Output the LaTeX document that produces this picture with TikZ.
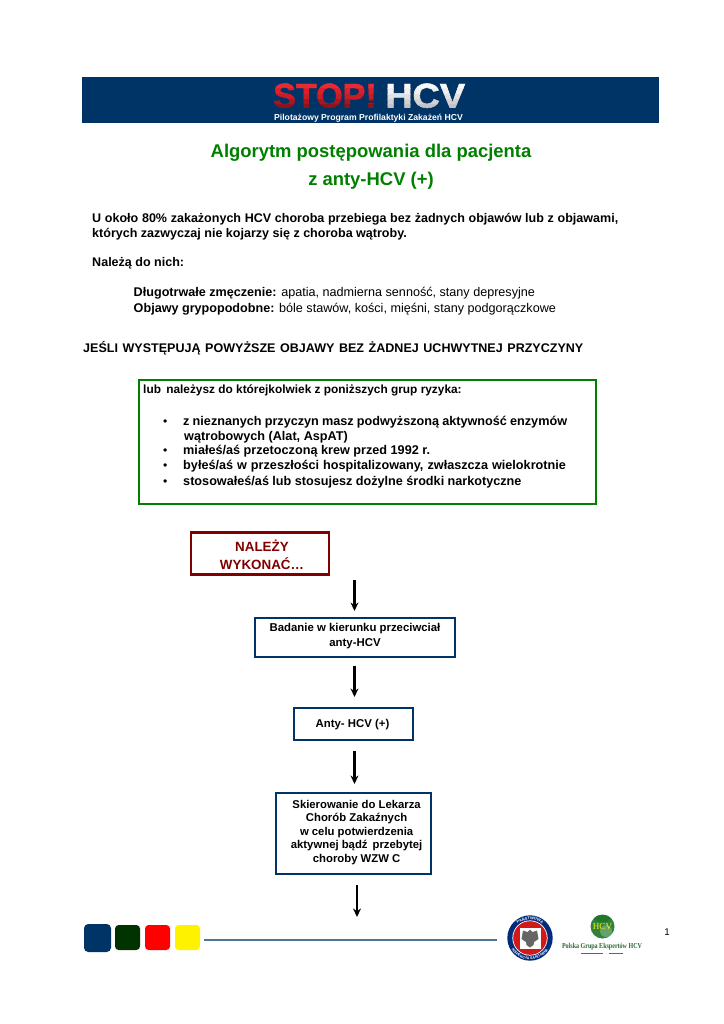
\documentclass[tikz,border=0pt]{standalone}
\usepackage{fontspec}
\setmainfont{Liberation Sans}
\newfontfamily\bannerfont[BoldFeatures={FakeBold=1.6}]{Liberation Sans}
\newfontfamily\logoserif{Liberation Serif}
\usetikzlibrary{arrows.meta,calc,shadings,decorations.text}
\definecolor{navy}{RGB}{0,51,102}
\definecolor{gtitle}{RGB}{0,128,0}
\definecolor{gbox}{RGB}{0,128,0}
\definecolor{maroon}{RGB}{128,0,0}
\definecolor{dkgreen}{RGB}{0,51,0}
\definecolor{rulec}{RGB}{80,115,150}
\definecolor{logogreen}{RGB}{50,130,60}
\definecolor{sealred}{RGB}{210,25,25}
\tikzset{
  x=0.8219pt,y=-0.8219pt,
  txt/.style={inner sep=0pt,anchor=base west,font=\fontsize{10.36}{12}\selectfont},
  bt/.style={txt,font=\fontsize{10.3}{12}\selectfont\bfseries},
  rb/.style={txt,font=\fontsize{10.4}{11}\selectfont\bfseries},
  dot/.style={txt,font=\fontsize{10}{11}\selectfont},
  flowbox/.style={draw=navy,line width=1.7pt,fill=white,inner sep=0pt},
  flowtext/.style={inner sep=0pt,align=center,font=\fontsize{9.35}{12.2}\selectfont\bfseries},
  flowarrow/.style={draw=black,line width=1.9pt,-{Stealth[length=7pt,width=6.5pt]}},
  bannerstop/.style={inner sep=0pt,anchor=base east,font=\fontsize{28}{28}\bannerfont\bfseries},
  bannerhcv/.style={inner sep=0pt,anchor=base west,font=\fontsize{28}{28}\bannerfont\bfseries,xscale=1.11},
}
\newcommand{\sline}[2]{\makebox[#1][s]{#2}}
\begin{document}
\begin{tikzpicture}
\useasboundingbox (0,0) rectangle (724,1024);
\fill[white] (0,0) rectangle (724,1024);
% banner
\fill[navy] (82,77) rectangle (659,122.5);
\foreach \i/\ya/\yb/\csv/\chv in {1/78/84/{240,55,65}/{255,255,255},2/84/89/{232,42,52}/{250,250,250},3/89/94/{220,32,42}/{240,240,240},4/94/99/{200,28,38}/{225,225,225},5/99/104/{170,22,32}/{210,210,210},6/104/112/{145,18,28}/{195,195,200}}{
  \definecolor{cs}{RGB}{\csv}\definecolor{ch}{RGB}{\chv}
  \begin{scope}
    \clip (250,\ya) rectangle (480,\yb);
    \node[bannerstop,text=cs] (stop\i) at (377,107.5) {STOP!};
    \node[bannerhcv,text=ch] (hcv\i) at (385,107.5) {HCV};
  \end{scope}
}
\node[inner sep=0pt,anchor=base,font=\fontsize{7.1}{8}\selectfont\bfseries,text=white] (sub) at (368.5,120) {Pilotażowy Program Profilaktyki Zakażeń HCV};
% title
\node[inner sep=0pt,anchor=base,font=\fontsize{15.15}{18}\selectfont\bfseries,text=gtitle] (t1) at (371,157) {Algorytm postępowania dla pacjenta};
\node[inner sep=0pt,anchor=base,font=\fontsize{15.15}{18}\selectfont\bfseries,text=gtitle] (t2) at (371,185) {z anty-HCV (+)};
% intro
\node[bt] (p1) at (92,222) {\sline{432.3pt}{U około 80\% zakażonych HCV choroba przebiega bez żadnych objawów lub z objawami,}};
\node[bt] (p2) at (92,237) {których zazwyczaj nie kojarzy się z choroba wątroby.};
\node[bt] (p3) at (92,266) {Należą do nich:};
\node[txt] (p4) at (133.5,296) {\textbf{Długotrwałe zmęczenie:} apatia, nadmierna senność, stany depresyjne};
\node[txt] (p5) at (133.5,312) {\textbf{Objawy grypopodobne:} bóle stawów, kości, mięśni, stany podgorączkowe};
\node[bt] (p6) at (83,352) {\sline{411pt}{JEŚLI WYSTĘPUJĄ POWYŻSZE OBJAWY BEZ ŻADNEJ UCHWYTNEJ PRZYCZYNY}};
% risk box
\draw[gbox,line width=1.9pt] (139,380) rectangle (596,504);
\node[txt,font=\fontsize{9.75}{11}\selectfont\bfseries] (r0) at (143,393) {lub\, należysz do którejkolwiek z poniższych grup ryzyka:};
\node[dot] (b1) at (163,425) {•};
\node[rb] (r1) at (183,425) {\sline{315.5pt}{z nieznanych przyczyn masz podwyższoną aktywność enzymów}};
\node[rb] (r1b) at (184,440) {wątrobowych (Alat, AspAT)};
\node[dot] (b2) at (163,454) {•};
\node[rb] (r2) at (183,454) {miałeś/aś przetoczoną krew przed 1992 r.};
\node[dot] (b3) at (163,469) {•};
\node[rb] (r3) at (183,469) {\sline{314.5pt}{byłeś/aś w przeszłości hospitalizowany, zwłaszcza wielokrotnie}};
\node[dot] (b4) at (163,485) {•};
\node[rb] (r4) at (183,485) {\sline{278pt}{stosowałeś/aś lub stosujesz dożylne środki narkotyczne}};
% flow
\node[draw=maroon,line width=1.8pt,minimum width=113pt,minimum height=34.5pt,inner sep=0pt] (n0) at (260,553.5) {};
\node[inner sep=0pt,align=center,text=maroon,font=\fontsize{11}{14.6}\selectfont\bfseries] (n0t) at (262,555) {NALEŻY\\WYKONAĆ…};
\node[flowbox,minimum width=164pt,minimum height=32.5pt] (n1) at (354.8,637.3) {};
\node[flowtext] (n1t) at (355,636) {Badanie w kierunku przeciwciał\\anty-HCV};
\node[flowbox,minimum width=98pt,minimum height=26pt] (n2) at (353.5,724.2) {};
\node[flowtext] (n2t) at (352.5,724.5) {Anty- HCV (+)};
\node[flowbox,minimum width=127pt,minimum height=66.5pt] (n3) at (353.4,833.5) {};
\node[flowtext,font=\fontsize{9.3}{11.1}\selectfont\bfseries] (n3t) at (356.6,832.5) {Skierowanie do Lekarza\\Chorób Zakaźnych\\w celu potwierdzenia\\aktywnej bądź\, przebytej\\choroby WZW C};
\coordinate (a0s) at (354.5,580);
\coordinate (a0e) at (354.5,611);
\coordinate (a1s) at (354.5,665.5);
\coordinate (a1e) at (354.5,697);
\coordinate (a2s) at (354.5,751);
\coordinate (a2e) at (354.5,784);
\coordinate (a3s) at (357,885);
\coordinate (a3e) at (357,917);
\draw[flowarrow] (a0s) -- (a0e);
\draw[flowarrow] (a1s) -- (a1e);
\draw[flowarrow] (a2s) -- (a2e);
\draw[flowarrow] (a3s) -- (a3e);
% footer
\fill[navy,rounded corners=3.5pt] (84,924) rectangle (111,952);
\fill[dkgreen,rounded corners=3pt] (115,925) rectangle (140,950);
\fill[red,rounded corners=3pt] (145,925) rectangle (170,950);
\fill[yellow,rounded corners=3pt] (175,925) rectangle (200,950);
\draw[rulec,line width=1.1pt] (204,940) -- (497,940);
% seal
\fill[navy!85!blue] (530,938) circle (22.7);
\fill[white] (530,938) circle (17.6);
\fill[sealred] (530,938) circle (16.8);
\fill[white] (519.5,927.5) rectangle (540.5,948.5);
\fill[black!60] (530,929.5) -- (532.5,932) -- (537,930.5) -- (538.5,939) -- (534,942) -- (533.5,945) -- (530,947.5) -- (526.5,945) -- (526,942) -- (521.5,939) -- (523,930.5) -- (527.5,932) -- cycle;
\path[postaction={decorate,decoration={text along path,text align=center,text={|\fontsize{3.2}{3.2}\selectfont\bfseries\color{white}|PAŃSTWOWA}}}] (511.5,938) .. controls (511.5,913.5) and (548.5,913.5) .. (548.5,938);
\path[postaction={decorate,decoration={text along path,text align=center,text={|\fontsize{3}{3}\selectfont\bfseries\color{white}|INSPEKCJA SANITARNA}}}] (508.5,938) .. controls (508.5,966.7) and (551.5,966.7) .. (551.5,938);
% HCV logo
\fill[logogreen] (602.5,926.5) circle (12);
\fill[white,opacity=.25] (606,931) circle (6);
\fill[black!60!green,opacity=.35] (602.5,918.5) ellipse (8 and 3.5);
\node[inner sep=0pt,font=\logoserif\fontsize{7.5}{8}\selectfont,text=yellow] (hcvlogo) at (602.5,927) {HCV};
\node[inner sep=0pt,anchor=base,font=\logoserif\fontsize{6.2}{7}\selectfont\bfseries,text=logogreen!80!black,xscale=.8] (pg) at (602,948) {Polska Grupa Ekspertów HCV};
\draw[logogreen,line width=0.5pt] (581,953.5) -- (603,953.5) (609,953.5) -- (623,953.5);
\node[inner sep=0pt,anchor=base,font=\fontsize{8}{10}\selectfont] (pn) at (667,935) {1};
\end{tikzpicture}
\end{document}
